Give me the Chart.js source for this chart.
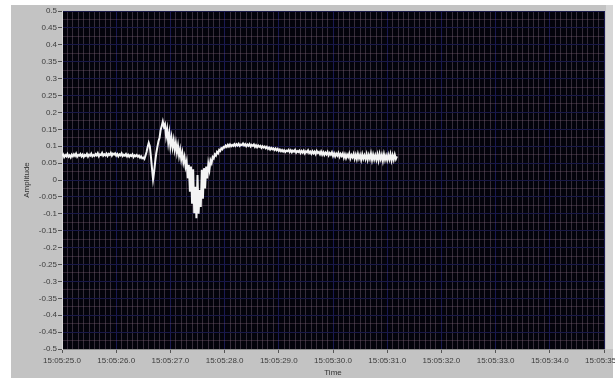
<!DOCTYPE html>
<html>
<head>
<meta charset="utf-8">
<script src="https://cdn.jsdelivr.net/npm/chart.js@4/dist/chart.umd.min.js"></script>
<style>
  html, body { margin: 0; padding: 0; background: #ffffff; }
  #wrap { width: 615px; height: 381px; overflow: hidden; position: relative; }
  canvas { display: block; }
</style>
</head>
<body>
<div id="wrap"><canvas id="chart" width="650" height="381"></canvas></div>
<script>
// Time axis: seconds past 15:05
const xTickSeconds = [25, 26, 27, 28, 29, 30, 31, 32, 33, 34, 35];
const xTickLabels = ['15:05:25.0', '15:05:26.0', '15:05:27.0', '15:05:28.0', '15:05:29.0',
  '15:05:30.0', '15:05:31.0', '15:05:32.0', '15:05:33.0', '15:05:34.0', '15:05:35.0'];

// Amplitude axis
const yTickValues = [0.5, 0.45, 0.4, 0.35, 0.3, 0.25, 0.2, 0.15, 0.1, 0.05, 0,
  -0.05, -0.1, -0.15, -0.2, -0.25, -0.3, -0.35, -0.4, -0.45, -0.5];
const yTickLabels = ['0.5', '0.45', '0.4', '0.35', '0.3', '0.25', '0.2', '0.15', '0.1', '0.05', '0',
  '-0.05', '-0.1', '-0.15', '-0.2', '-0.25', '-0.3', '-0.35', '-0.4', '-0.45', '-0.5'];

// Recorded trace: first sample at 15:05:25.00, one sample every 0.02 s
const traceStart = 25.0;
const sampleInterval = 0.02;
const amplitude = [
  0.071, 0.076, 0.068, 0.074, 0.070, 0.077, 0.069, 0.073, 0.067, 0.075,
  0.070, 0.076, 0.071, 0.078, 0.069, 0.074, 0.072, 0.077, 0.070, 0.075,
  0.068, 0.074, 0.071, 0.077, 0.069, 0.075, 0.072, 0.078, 0.070, 0.074,
  0.071, 0.077, 0.073, 0.079, 0.070, 0.076, 0.074, 0.080, 0.072, 0.076,
  0.073, 0.078, 0.071, 0.077, 0.074, 0.080, 0.072, 0.078, 0.075, 0.079,
  0.072, 0.077, 0.070, 0.076, 0.073, 0.079, 0.071, 0.075, 0.072, 0.077,
  0.070, 0.075, 0.069, 0.074, 0.071, 0.076, 0.068, 0.073, 0.070, 0.074,
  0.069, 0.072, 0.066, 0.070, 0.064, 0.066, 0.062, 0.072, 0.083, 0.098,
  0.110, 0.100, 0.070, 0.035, 0.002, 0.025, 0.055, 0.080, 0.098, 0.115,
  0.125, 0.148, 0.160, 0.173, 0.158, 0.165, 0.130, 0.150, 0.112, 0.138,
  0.100, 0.125, 0.097, 0.118, 0.090, 0.110, 0.082, 0.102, 0.072, 0.090,
  0.062, 0.080, 0.052, 0.068, 0.040, 0.055, 0.005, 0.045, -0.035, 0.040,
  -0.070, 0.032, -0.098, -0.020, -0.113, 0.015, -0.100, -0.030, -0.080, 0.030,
  -0.055, 0.035, -0.025, 0.040, 0.005, 0.048, 0.030, 0.058, 0.050, 0.068,
  0.064, 0.076, 0.072, 0.083, 0.079, 0.089, 0.086, 0.094, 0.091, 0.098,
  0.096, 0.102, 0.098, 0.104, 0.099, 0.105, 0.100, 0.104, 0.101, 0.106,
  0.101, 0.106, 0.102, 0.107, 0.101, 0.105, 0.103, 0.108, 0.102, 0.106,
  0.100, 0.105, 0.101, 0.106, 0.099, 0.104, 0.101, 0.105, 0.098, 0.103,
  0.097, 0.102, 0.098, 0.101, 0.095, 0.100, 0.096, 0.099, 0.094, 0.098,
  0.092, 0.096, 0.090, 0.095, 0.091, 0.094, 0.089, 0.093, 0.088, 0.092,
  0.086, 0.090, 0.085, 0.089, 0.084, 0.088, 0.083, 0.087, 0.085, 0.089,
  0.083, 0.088, 0.082, 0.087, 0.084, 0.089, 0.081, 0.086, 0.083, 0.087,
  0.080, 0.086, 0.081, 0.087, 0.079, 0.085, 0.082, 0.088, 0.080, 0.084,
  0.078, 0.085, 0.079, 0.084, 0.077, 0.086, 0.080, 0.083, 0.076, 0.084,
  0.075, 0.082, 0.074, 0.081, 0.076, 0.083, 0.073, 0.080, 0.075, 0.082,
  0.071, 0.079, 0.070, 0.078, 0.072, 0.080, 0.069, 0.077, 0.071, 0.078,
  0.066, 0.076, 0.065, 0.075, 0.068, 0.078, 0.064, 0.074, 0.067, 0.077,
  0.063, 0.075, 0.062, 0.077, 0.064, 0.074, 0.060, 0.076, 0.063, 0.073,
  0.062, 0.076, 0.060, 0.074, 0.063, 0.078, 0.059, 0.075, 0.061, 0.073,
  0.060, 0.075, 0.058, 0.077, 0.062, 0.074, 0.057, 0.076, 0.060, 0.072,
  0.059, 0.074, 0.061, 0.076, 0.058, 0.073, 0.060, 0.075, 0.062, 0.070
];

const tracePoints = amplitude.map((v, i) => ({
  x: Math.round((traceStart + i * sampleInterval) * 100) / 100,
  y: v
}));

const isWhole = (v, step) => Math.abs(v / step - Math.round(v / step)) < 1e-6;

// Grey instrument panel with a black plotting field
const panelPlugin = {
  id: 'panel',
  beforeDraw(chart) {
    const { ctx, chartArea: a } = chart;
    ctx.save();
    ctx.fillStyle = '#ffffff';
    ctx.fillRect(0, 0, chart.width, chart.height);
    ctx.fillStyle = '#c3c3c3';
    ctx.fillRect(11, 5, 602, 373);
    ctx.fillStyle = '#d6d6d6';
    ctx.fillRect(a.right + 2, 5, 7, a.bottom - 5);
    ctx.fillStyle = '#03030b';
    ctx.fillRect(a.left, a.top, a.right - a.left, a.bottom - a.top);
    ctx.restore();
  }
};

const font = { family: '"Liberation Sans", Arial, sans-serif', size: 8 };

new Chart(document.getElementById('chart'), {
  type: 'line',
  data: {
    datasets: [{
      data: tracePoints,
      borderColor: '#f4f4f4',
      borderWidth: 2,
      pointRadius: 0,
      tension: 0,
      fill: false
    }]
  },
  options: {
    responsive: false,
    animation: false,
    devicePixelRatio: 1,
    layout: { padding: { left: 18, right: 46, top: 11, bottom: 3 } },
    plugins: { legend: { display: false }, tooltip: { enabled: false } },
    scales: {
      x: {
        type: 'linear',
        min: xTickSeconds[0],
        max: xTickSeconds[xTickSeconds.length - 1],
        afterBuildTicks(scale) {
          const ticks = [];
          for (let i = 0; i <= 100; i++) {
            ticks.push({ value: Math.round((xTickSeconds[0] + i * 0.1) * 10) / 10 });
          }
          scale.ticks = ticks;
        },
        afterFit(scale) { scale.height = 29; },
        ticks: {
          autoSkip: false,
          maxRotation: 0,
          minRotation: 0,
          padding: 3,
          color: '#3c3c3c',
          font,
          callback(value) {
            const k = xTickSeconds.findIndex(s => Math.abs(s - value) < 1e-6);
            return k >= 0 ? xTickLabels[k] : '';
          }
        },
        grid: {
          color: c => (c.tick && isWhole(c.tick.value, 1)) ? '#1a1a52' : 'rgba(125,105,125,0.42)',
          lineWidth: 1,
          tickLength: 4,
          tickColor: c => (c.tick && isWhole(c.tick.value, 1)) ? '#555555' : 'rgba(0,0,0,0)'
        },
        border: { color: '#8a8a8a', width: 1 },
        title: {
          display: true,
          text: 'Time',
          color: '#333333',
          font,
          padding: { top: 0, bottom: 0 }
        }
      },
      y: {
        type: 'linear',
        min: -0.5,
        max: 0.5,
        afterBuildTicks(scale) {
          const ticks = [];
          for (let i = 0; i <= 40; i++) {
            ticks.push({ value: Math.round((-0.5 + i * 0.025) * 1000) / 1000 });
          }
          scale.ticks = ticks;
        },
        afterFit(scale) { scale.width = 44; },
        ticks: {
          autoSkip: false,
          padding: 1,
          color: '#3c3c3c',
          font,
          callback(value) {
            const k = yTickValues.findIndex(s => Math.abs(s - value) < 1e-6);
            return k >= 0 ? yTickLabels[k] : '';
          }
        },
        grid: {
          color: c => (c.tick && isWhole(c.tick.value, 0.05)) ? '#181848' : 'rgba(125,95,115,0.36)',
          lineWidth: 1,
          tickLength: 4,
          tickColor: c => (c.tick && isWhole(c.tick.value, 0.05)) ? '#555555' : 'rgba(0,0,0,0)'
        },
        border: { color: '#d8d8d8', width: 1 },
        title: {
          display: true,
          text: 'Amplitude',
          color: '#333333',
          font,
          padding: { top: 4, bottom: 0 }
        }
      }
    }
  },
  plugins: [panelPlugin]
});
</script>
</body>
</html>
